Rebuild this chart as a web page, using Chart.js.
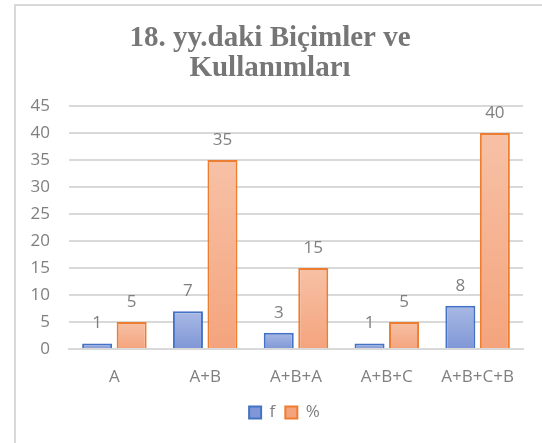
<!DOCTYPE html>
<html>
<head>
<meta charset="utf-8">
<script src="https://cdn.jsdelivr.net/npm/chart.js@4"></script>
<style>
    html, body { margin: 0; padding: 0; background: #fff; }
    #wrap { position: relative; width: 542px; height: 443px; overflow: hidden; }
    #frame {
        position: absolute; left: 14px; top: 4px; width: 600px; height: 500px;
        border-left: 2px solid #d9d9d9; border-top: 2px solid #d9d9d9;
    }
    #statsChart { position: absolute; left: 0; top: 0; }
</style>
</head>
<body>
<div id="wrap">
    <div id="frame"></div>
    <canvas id="statsChart" width="542" height="443"></canvas>
</div>
<script>
// Data
const categories = ['A', 'A+B', 'A+B+A', 'A+B+C', 'A+B+C+B'];
const fValues = [1, 7, 3, 1, 8];
const percentValues = [5, 35, 15, 5, 40];
const seriesNames = ['f', '%'];

const tickColor = '#7f7f7f';
const sansFont = '"Open Sans", "Noto Sans", sans-serif';

// Per-bar vertical gradient (lighter at top)
function barGradient(topColor, bottomColor) {
    return (context) => {
        const chart = context.chart;
        const area = chart.chartArea;
        if (!area || context.type !== 'data') return bottomColor;
        const yScale = chart.scales.y;
        const top = yScale.getPixelForValue(context.raw);
        const bottom = yScale.getPixelForValue(0);
        if (!isFinite(top) || top === bottom) return bottomColor;
        const g = chart.ctx.createLinearGradient(0, top, 0, bottom);
        g.addColorStop(0, topColor);
        g.addColorStop(1, bottomColor);
        return g;
    };
}

// Value labels above bars
const valueLabels = {
    id: 'valueLabels',
    afterDatasetsDraw(chart) {
        const ctx = chart.ctx;
        ctx.save();
        ctx.font = '17px ' + sansFont;
        ctx.fillStyle = tickColor;
        ctx.textAlign = 'center';
        ctx.textBaseline = 'middle';
        chart.data.datasets.forEach((ds, i) => {
            const meta = chart.getDatasetMeta(i);
            meta.data.forEach((bar, j) => {
                ctx.fillText(String(ds.data[j]), bar.x, bar.y - 20);
            });
        });
        ctx.restore();
    }
};

// Nudge title and legend to the right, like the original
const shiftBlocks = {
    id: 'shiftBlocks',
    afterLayout(chart) {
        if (chart.titleBlock) chart.titleBlock.left += 17;
        if (chart.legend) chart.legend.left += 46;
    }
};

const ctx = document.getElementById('statsChart').getContext('2d');
const chart = new Chart(ctx, {
    type: 'bar',
    data: {
        labels: categories,
        datasets: [
            {
                label: seriesNames[0],
                data: fValues,
                backgroundColor: barGradient('#a9b9e5', '#7f97d6'),
                borderColor: '#4472c4',
                borderWidth: 2,
                borderSkipped: 'bottom',
                categoryPercentage: 0.76,
                barPercentage: 0.87
            },
            {
                label: seriesNames[1],
                data: percentValues,
                backgroundColor: barGradient('#f7c1a6', '#f4a47d'),
                borderColor: '#ed7d31',
                borderWidth: 2,
                borderSkipped: 'bottom',
                categoryPercentage: 0.76,
                barPercentage: 0.87
            }
        ]
    },
    options: {
        responsive: false,
        animation: false,
        layout: {
            padding: { left: 0, right: 19, top: 0, bottom: 12 }
        },
        plugins: {
            title: {
                display: true,
                text: ['18. yy.daki Biçimler ve', 'Kullanımları'],
                color: '#767676',
                font: { family: '"Liberation Serif", "DejaVu Serif", serif', size: 29, weight: 'bold', lineHeight: 1.05 },
                padding: { top: 23, bottom: 22 }
            },
            legend: {
                position: 'bottom',
                labels: {
                    color: tickColor,
                    font: { family: sansFont, size: 17 },
                    boxWidth: 12,
                    boxHeight: 12,
                    padding: 10
                }
            },
            tooltip: { enabled: false }
        },
        scales: {
            x: {
                afterFit: (scale) => { scale.height = 45; },
                grid: { display: false },
                border: { display: true, color: '#d9d9d9', width: 2 },
                ticks: {
                    color: tickColor,
                    font: { family: sansFont, size: 17 },
                    padding: 10
                }
            },
            y: {
                min: 0,
                max: 45,
                afterFit: (scale) => { scale.width = 69; },
                border: { display: false },
                grid: { color: '#d9d9d9', lineWidth: 2, drawTicks: false },
                ticks: {
                    stepSize: 5,
                    color: tickColor,
                    font: { family: sansFont, size: 17 },
                    padding: 19
                }
            }
        }
    },
    plugins: [valueLabels, shiftBlocks]
});
</script>
</body>
</html>
